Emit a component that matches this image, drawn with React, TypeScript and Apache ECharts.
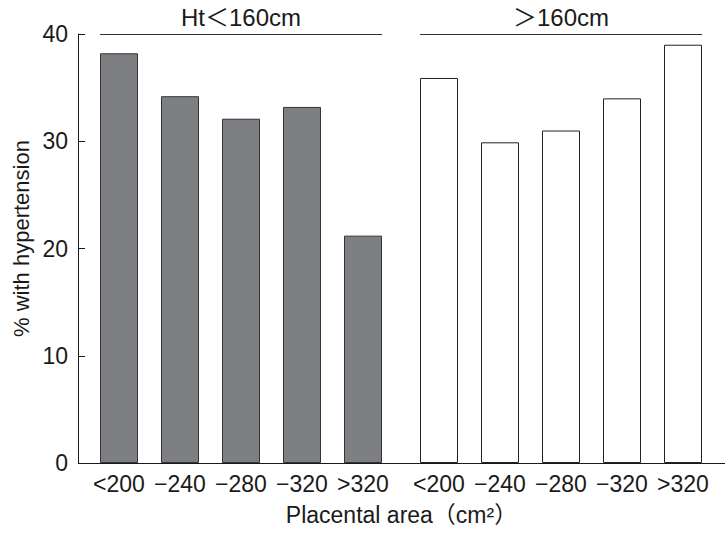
import React, { useEffect, useRef } from "react";
import * as echarts from "echarts";

// ---- data ----
const groupLabels = ["Ht＜160cm", "＞160cm"];
const categories = ["<200", "−240", "−280", "−320", ">320"];
const shortValues = [38.2, 34.2, 32.1, 33.2, 21.2];
const tallValues = [35.9, 29.9, 31.0, 34.0, 39.0];
const yMin = 0;
const yMax = 40;
const yInterval = 10;
const yName = "% with hypertension";
const xName = "Placental area（cm²）";

// ---- layout ----
const W = 725;
const H = 533;
const AXIS_X = 78;
const TOP = 34;
const PLOT_H = 429;
const CAT_W = 61;
const BAR_W = 38;
const G1_LEFT = 88.5;
const G2_LEFT = 408.5;
const FONT = "'Liberation Sans', Arial, 'Noto Sans CJK JP', sans-serif";
const INK = "#1a1a1a";

export default function App() {
  const ref = useRef<HTMLDivElement>(null);

  useEffect(() => {
    if (!ref.current) return;
    const chart = echarts.init(ref.current, null, { renderer: "svg" });
    const pad = (CAT_W - BAR_W) / 2;
    const groupW = CAT_W * categories.length;
    const lefts = [G1_LEFT, G2_LEFT];
    const headerGraphics: any[] = [];
    lefts.forEach((l, i) => {
      const x1 = l + pad;
      const x2 = l + groupW - pad;
      headerGraphics.push({
        type: "line",
        shape: { x1, y1: TOP + 0.5, x2, y2: TOP + 0.5 },
        style: { stroke: "#333", lineWidth: 1 },
      });
      headerGraphics.push({
        type: "text",
        x: (x1 + x2) / 2,
        y: 17,
        style: {
          text: groupLabels[i],
          font: `24px ${FONT}`,
          fill: INK,
          textAlign: "center",
          textVerticalAlign: "middle",
        },
      });
    });

    const xAxisCommon = {
      type: "category",
      data: categories,
      axisLine: { show: false },
      axisTick: { show: false },
      axisLabel: { color: INK, fontSize: 23, fontFamily: FONT, margin: 9, interval: 0 },
    };

    chart.setOption({
      animation: false,
      grid: [
        { left: G1_LEFT, top: TOP, width: groupW, height: PLOT_H },
        { left: G2_LEFT, top: TOP, width: groupW, height: PLOT_H },
      ],
      xAxis: [
        { ...xAxisCommon, gridIndex: 0 },
        { ...xAxisCommon, gridIndex: 1 },
      ],
      yAxis: [
        {
          type: "value",
          gridIndex: 0,
          min: yMin,
          max: yMax,
          interval: yInterval,
          offset: G1_LEFT - AXIS_X,
          axisLine: { show: true, lineStyle: { color: INK, width: 1 } },
          axisTick: { show: true, inside: true, length: 7, lineStyle: { color: INK } },
          axisLabel: { color: INK, fontSize: 23, fontFamily: FONT, margin: 10 },
          splitLine: { show: false },
          name: yName,
          nameLocation: "middle",
          nameGap: 46,
          nameTextStyle: { color: INK, fontSize: 22, fontFamily: FONT, padding: [0, 0, 0, 20] },
        },
        {
          type: "value",
          gridIndex: 1,
          min: yMin,
          max: yMax,
          interval: yInterval,
          show: false,
          splitLine: { show: false },
        },
      ],
      series: [
        {
          type: "bar",
          xAxisIndex: 0,
          yAxisIndex: 0,
          data: shortValues,
          barWidth: BAR_W,
          itemStyle: { color: "#7e7f83", borderColor: "#333", borderWidth: 1 },
        },
        {
          type: "bar",
          xAxisIndex: 1,
          yAxisIndex: 1,
          data: tallValues,
          barWidth: BAR_W,
          itemStyle: { color: "#ffffff", borderColor: "#222", borderWidth: 1 },
        },
      ],
      graphic: [
        {
          type: "line",
          shape: { x1: AXIS_X, y1: TOP + PLOT_H + 0.5, x2: W, y2: TOP + PLOT_H + 0.5 },
          style: { stroke: INK, lineWidth: 1 },
          z: 10,
        },
        ...headerGraphics,
        {
          type: "text",
          x: (AXIS_X + W) / 2,
          y: 515,
          style: {
            text: xName,
            font: `23px ${FONT}`,
            fill: INK,
            textAlign: "center",
            textVerticalAlign: "middle",
          },
        },
      ],
    });
    return () => chart.dispose();
  }, []);

  return (
    <div
      ref={ref}
      style={{ position: "fixed", left: 0, top: 0, width: W, height: H, background: "#fff" }}
    />
  );
}
